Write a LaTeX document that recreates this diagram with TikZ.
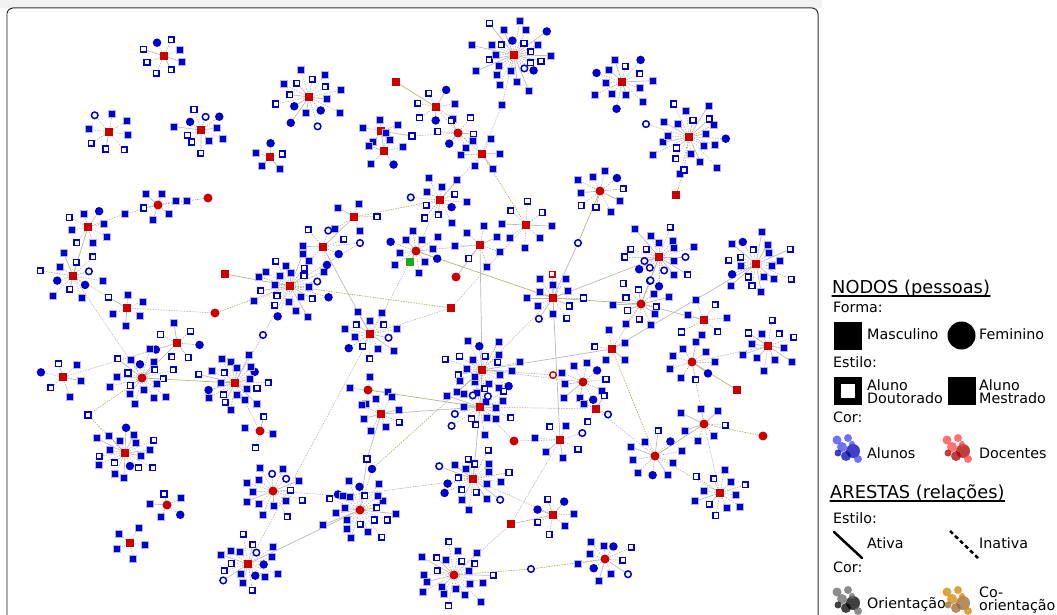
\documentclass[tikz,border=0pt]{standalone}
\usepackage{fontspec}
\setmainfont{DejaVu Sans}
\usetikzlibrary{calc}
\definecolor{azulal}{RGB}{0,0,204}
\definecolor{vermdoc}{RGB}{204,0,0}
\definecolor{verdesel}{RGB}{30,170,30}
\definecolor{ourocoor}{RGB}{150,150,60}
\begin{document}
\begin{tikzpicture}[x=1pt, y=-1pt, line cap=round,
    msq/.style={rectangle, fill=azulal, draw=azulal!30, line width=0.8pt, minimum size=7pt, inner sep=0pt},
    dsq/.style={rectangle, fill=white, draw=azulal, line width=1.5pt, minimum size=5.6pt, inner sep=0pt},
    mci/.style={circle, fill=azulal, minimum size=8.5pt, inner sep=0pt},
    dci/.style={circle, fill=white, draw=azulal, line width=1.5pt, minimum size=6.6pt, inner sep=0pt},
    prof/.style={rectangle, fill=vermdoc, minimum size=8pt, inner sep=0pt},
    profa/.style={circle, fill=vermdoc, minimum size=9pt, inner sep=0pt},
    profd/.style={rectangle, fill=white, draw=vermdoc, line width=1.4pt, minimum size=5.6pt, inner sep=0pt},
    profc/.style={circle, fill=white, draw=vermdoc, line width=1.4pt, minimum size=6.6pt, inner sep=0pt},
    ativa/.style={draw=gray!55, line width=0.7pt},
    inativa/.style={draw=gray!55, line width=0.7pt, dash pattern=on 1pt off 1.6pt},
    coa/.style={draw=ourocoor!70, line width=0.7pt},
    coi/.style={draw=ourocoor!80, line width=0.7pt, dash pattern=on 1pt off 1.6pt},
    leg/.style={anchor=base west, inner sep=0pt, font=\fontsize{14.3}{16}\selectfont},
    head/.style={anchor=base west, inner sep=0pt, font=\fontsize{17.8}{20}\selectfont}]
    \pgfmathsetseed{11}
    % advisors: name/x/y/number of students/radius/shape
    \def\grupos{a1/164/56/8/21/prof, a2/109/132/8/24/prof, a3/201/130/11/27/prof, a4/270/157/5/17/prof,
        a5/309/97/16/33/prof, a6/514/55/26/40/prof, a7/622/82/14/30/prof, a8/689/137/22/41/prof,
        a9/436/107/7/22/prof, a10/458/133/6/20/profa, a11/381/131/5/18/prof, a12/384/151/5/22/prof,
        a13/482/154/6/22/prof, b1/158/205/6/18/profa, b2/88/227/8/22/prof, b3/73/276/12/30/prof,
        b4/127/308/6/20/prof, b7/290/286/24/37/prof, b8/177/343/7/24/prof, b9/142/378/18/33/profa,
        b10/235/383/22/35/prof, b11/63/377/6/22/prof, c1/440/200/12/27/prof, c2/354/217/5/22/prof,
        c3/323/247/7/24/prof, c4/416/251/12/26/profa, c5/480/245/7/24/prof, c6/526/225/8/26/prof,
        c9/370/334/14/29/prof, c10/553/298/12/28/prof, c11/482/370/22/37/prof, c12/368/390/4/20/profa,
        c13/480/407/18/33/prof, d1/600/191/10/26/profa, d3/659/257/20/37/prof, d4/641/304/13/28/profa,
        d5/756/264/20/37/prof, d6/704/320/7/24/prof, d7/612/349/5/20/prof, d8/583/382/10/26/profa,
        d9/692/362/9/24/profa, d10/768/346/12/28/prof, d12/596/409/4/18/prof, d13/704/424/7/24/profa,
        d14/655/456/10/27/profa, d15/720/493/12/28/prof, d17/605/559/11/28/profa, d18/560/440/7/24/prof,
        e1/381/414/8/22/prof, e2/473/479/20/35/prof, e3/360/510/22/37/profa, e4/553/515/7/22/prof,
        e6/454/575/22/38/profa, e7/125/453/18/33/prof, e8/260/431/4/18/profa, e9/273/491/16/31/profa,
        e10/167/505/5/18/profa, e11/130/543/5/20/prof, e12/248/564/18/33/prof}
    % advisors without students of their own, and students shared by two groups
    \def\soltos{x1/prof/396/82, x2/profa/208/198, x3/profa/215/313, x4/prof/225/274,
        x5/profa/456/277, x6/prof/451/308, x7/prof/676/195, x8/prof/737/390, x9/profa/763/436,
        x10/profa/514/441, x11/prof/511/524, x12/profd/552/274, x13/profc/553/375,
        s1/msq/502/105, s2/dsq/412/136, s3/dci/360/243, s4/msq/187/201,
        s5/msq/125/214, s6/dci/263/335, s7/dsq/88/415, s8/dci/578/243, s9/dsq/367/459,
        s10/mci/372/469, s11/msq/343/496, s12/dci/531/569, s13/dsq/684/170}
    % blob of the legend
    \def\blob#1#2{%
        \foreach \dx/\dy/\rr/\cc in {4/6/4.5/blobl, 15/4/4/blobl, 9/13/5/blobl, 5/19/3.5/blobd, 20/17/7/blobd, 13/22/5/blobd, 25/25/4/blobl, 19/10/3/blobl}
            \fill[\cc, fill opacity=0.75] (#1+\dx,#2+\dy) circle (\rr);}

    \useasboundingbox (0,0) rectangle (1057,615);
    \clip (0,0) rectangle (1057,615);
    \fill[black!5] (0,0) rectangle (822,8);
    \draw[black!80, line width=1pt, rounded corners=6pt] (7,660) -- (7,8) -- (818,8) -- (818,660);
    \draw[gray!65, line width=2.5pt] (7,14) -- (7,660);

    % first the places and the edges
    \foreach \nm/\px/\py/\n/\r/\st in \grupos {
        \coordinate (\nm) at (\px,\py);
        \pgfmathrandominteger\rotc{0}{359}
        \foreach \i in {1,...,\n}{
            \pgfmathsetmacro\angc{\rotc+360*\i/\n}
            \pgfmathsetmacro\radc{\r*(0.88+0.24*rnd)*ifthenelse(\n>16,ifthenelse(mod(\i,3)==0,1,ifthenelse(mod(\i,3)==1,0.72,0.46)),ifthenelse(mod(\i,2)==0,1,ifthenelse(\n>10,0.6,0.8)))}
            \pgfmathrandominteger\ee{1}{10}
            \ifnum\ee<4 \def\est{ativa}\else\ifnum\ee<10 \def\est{inativa}\else\def\est{coi}\fi\fi
            \coordinate (\nm-\i) at ($(\nm)+({\radc*cos(\angc)},{0.85*\radc*sin(\angc)})$);
            \draw[\est] (\nm) -- (\nm-\i);
        }}
    \foreach \nm/\st/\px/\py in \soltos \coordinate (\nm) at (\px,\py);
    \coordinate (c4-v) at (410,262);
    \draw[inativa] (c4) -- (c4-v);
    \foreach \a/\b/\s in {x1/a9/coa, a9/a10/inativa, a11/s2/ativa, s2/a10/inativa, a11/a12/ativa,
        a10/a13/coi, a13/s1/inativa, s1/a6/inativa, a13/c6/coi, a13/c1/inativa, c1/c2/coi,
        c2/c3/ativa, c1/c4/inativa, c3/s3/inativa, s3/b7/inativa, c4/c5/inativa, c4/c10/coa,
        c5/x5/ativa, c5/c11/ativa, c6/x6/inativa, c3/c9/ativa, b7/x6/coi, x3/b7/coi,
        b4/x3/inativa, b1/s5/inativa, s5/b2/inativa, b1/s4/coi, s4/x2/coi, b2/b3/coa,
        b3/b4/inativa, b3/b9/inativa, b11/b8/inativa, b8/b9/ativa, b9/b10/coa, b10/s6/inativa,
        s6/b7/inativa, x4/b7/coa, b10/e8/inativa, b9/s7/coi, s7/e7/coi, c10/s8/ativa, s8/d1/coa,
        c10/d4/coa, c10/c11/inativa, c10/d18/ativa, d4/d3/coa, d4/d7/inativa, d4/d6/ativa,
        d7/d5/ativa, d7/c11/ativa, d7/d14/coi, d8/c11/inativa, d12/d14/inativa, d12/c13/inativa,
        d9/d13/inativa, d13/d14/coa, d13/d15/inativa, d9/d10/inativa, x8/d9/coa, d13/x9/coi,
        d18/x11/inativa, c13/e2/ativa, c11/c13/coa, c13/e1/ativa, e1/s9/ativa, s9/e3/ativa,
        s10/c11/coi, s10/e3/inativa, e9/s11/inativa, s11/e2/inativa, e3/e12/ativa, x11/e6/inativa,
        e6/s12/coi, s12/d17/coi, e4/e2/inativa, c9/x6/inativa, c12/c13/coa, a8/s13/coi,
        s13/x7/coi, d3/c10/ativa, c13/x10/inativa, c10/x12/ativa, c11/x13/inativa, c4/e12/inativa,
        d18/x10/inativa, e4/x11/ativa, d14/d15/inativa}
        \draw[\s] (\a) -- (\b);

    % then the people on top
    \foreach \nm/\px/\py/\n/\r/\st in \grupos {
        \node[\st] (\nm) at (\nm) {};
        \foreach \i in {1,...,\n}{
            \pgfmathrandominteger\kk{1}{20}
            \ifnum\kk<13 \def\sty{msq}\else\ifnum\kk<18 \def\sty{dsq}\else\ifnum\kk<20 \def\sty{mci}\else\def\sty{dci}\fi\fi\fi
            \node[\sty] (\nm-\i) at (\nm-\i) {};
        }}
    \foreach \nm/\st/\px/\py in \soltos \node[\st] (\nm) at (\nm) {};
    \node[rectangle, fill=verdesel, minimum size=8pt, inner sep=0pt] (c4-v) at (c4-v) {};

    % legend
    \node[head] (nod) at (832,293) {NODOS (pessoas)};
    \draw[line width=1.1pt] ([yshift=-3pt]nod.base west) -- ([yshift=-3pt]nod.base east);
    \node[leg] (forma) at (833,312) {Forma:};
    \node[fill=black, minimum size=28pt, inner sep=0pt] (lmasc) at (847.5,335.5) {};
    \node[leg] at (867,339) {Masculino};
    \node[circle, fill=black, minimum size=28pt, inner sep=0pt] (lfem) at (961.5,335.5) {};
    \node[leg] at (979,339) {Feminino};
    \node[leg] at (833,367) {Estilo:};
    \node[draw=black, line width=7pt, fill=white, minimum size=21pt, inner sep=0pt] (ldout) at (847.5,391) {};
    \node[leg] at (867,390) {Aluno};
    \node[leg] at (867,403) {Doutorado};
    \node[fill=black, minimum size=28pt, inner sep=0pt] (lmest) at (961.5,391) {};
    \node[leg] at (979,390) {Aluno};
    \node[leg] at (979,403) {Mestrado};
    \node[leg] at (833,422) {Cor:};
    \colorlet{blobl}{blue!75}\colorlet{blobd}{blue!70!black}
    \blob{833}{434}
    \node[leg] at (867,458) {Alunos};
    \colorlet{blobl}{red!75}\colorlet{blobd}{red!65!black}
    \blob{943}{434}
    \node[leg] at (979,458) {Docentes};
    \node[head] (are) at (830,498) {ARESTAS (relações)};
    \draw[line width=1.1pt] ([yshift=-3pt]are.base west) -- ([yshift=-3pt]are.base east);
    \node[leg] at (833,523) {Estilo:};
    \coordinate (la1) at (834,532); \coordinate (la2) at (862,558);
    \draw[line width=2.5pt] (la1) -- (la2);
    \node[leg] at (867,548) {Ativa};
    \coordinate (li1) at (950,531); \coordinate (li2) at (978,558);
    \draw[line width=2.5pt, line cap=butt, dash pattern=on 4pt off 3pt] (li1) -- (li2);
    \node[leg] at (979,548) {Inativa};
    \node[leg] at (833,572) {Cor:};
    \colorlet{blobl}{black!60}\colorlet{blobd}{black}
    \blob{833}{586}
    \node[leg] at (867,608) {Orientação};
    \colorlet{blobl}{orange!70!yellow!80!black}\colorlet{blobd}{brown!80!black}
    \blob{943}{586}
    \node[leg] at (979,597) {Co-};
    \node[leg] at (979,610) {orientação};
\end{tikzpicture}
\end{document}
